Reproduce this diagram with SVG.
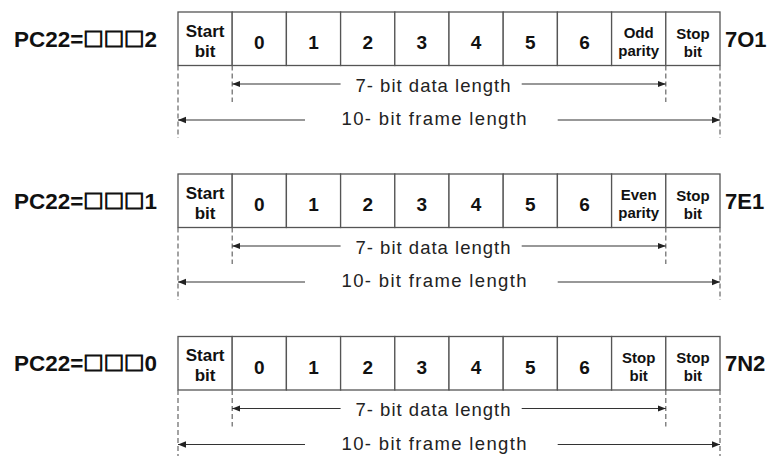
<svg xmlns="http://www.w3.org/2000/svg" width="771" height="456" viewBox="0 0 771 456">
<style>
.cell{fill:#fff;stroke:#555;stroke-width:1.3}
.lbl{font-family:"Liberation Sans",Arial,sans-serif;font-weight:bold;fill:#111}
.big{font-size:22px}
.sq{font-family:"Noto Sans CJK SC","DejaVu Sans",sans-serif;font-size:20px;font-weight:bold;stroke:#111;stroke-width:1.1}
.st{font-size:17px;text-anchor:middle}
.dg{font-size:19px;text-anchor:middle}
.sm{font-size:15px;text-anchor:middle}
.len{font-family:"Liberation Sans",Arial,sans-serif;font-size:18.5px;fill:#222;text-anchor:middle}
.arr{stroke:#333;stroke-width:1.2;fill:none}
.dash{stroke:#666;stroke-width:1.2;stroke-dasharray:5 3;fill:none}
</style>
<defs>
<marker id="ah" viewBox="0 0 8 8" refX="8" refY="4" markerWidth="8" markerHeight="8" markerUnits="userSpaceOnUse" orient="auto-start-reverse">
<path d="M0,0.8 L8,4 L0,7.2 z" fill="#222"/>
</marker>
<g id="cells">
<rect class="cell" x="178" y="0" width="54.2" height="53.5"/>
<rect class="cell" x="232.2" y="0" width="54.2" height="53.5"/>
<rect class="cell" x="286.4" y="0" width="54.2" height="53.5"/>
<rect class="cell" x="340.6" y="0" width="54.2" height="53.5"/>
<rect class="cell" x="394.8" y="0" width="54.2" height="53.5"/>
<rect class="cell" x="449" y="0" width="54.2" height="53.5"/>
<rect class="cell" x="503.2" y="0" width="54.2" height="53.5"/>
<rect class="cell" x="557.4" y="0" width="54.2" height="53.5"/>
<rect class="cell" x="611.6" y="0" width="54.2" height="53.5"/>
<rect class="cell" x="665.8" y="0" width="54.2" height="53.5"/>
<text class="lbl st" x="205.1" y="24.7">Start</text>
<text class="lbl st" x="205.1" y="44.7">bit</text>
<text class="lbl dg" x="259.3" y="37">0</text>
<text class="lbl dg" x="313.5" y="37">1</text>
<text class="lbl dg" x="367.7" y="37">2</text>
<text class="lbl dg" x="421.9" y="37">3</text>
<text class="lbl dg" x="476.1" y="37">4</text>
<text class="lbl dg" x="530.3" y="37">5</text>
<text class="lbl dg" x="584.5" y="37">6</text>
<text class="lbl sm" x="692.9" y="26.5">Stop</text>
<text class="lbl sm" x="692.9" y="44.5">bit</text>
</g>
<g id="conn">
<path class="dash" d="M178,53.5 V126 M232.2,53.5 V90 M665.8,53.5 V90 M720,53.5 V126"/>
<path class="arr" d="M340.6,72 H232.2" marker-end="url(#ah)"/>
<path class="arr" d="M521.7,72 H665.8" marker-end="url(#ah)"/>
<path class="arr" d="M305,108 H178" marker-end="url(#ah)"/>
<path class="arr" d="M557.7,108 H720" marker-end="url(#ah)"/>
<text class="len" x="433" y="79.7" textLength="155" lengthAdjust="spacing">7- bit  data length</text>
<text class="len" x="434" y="113.3" textLength="185" lengthAdjust="spacing">10- bit  frame  length</text>
</g>
</defs>

<g id="frame-7O1">
<text class="lbl big" x="14" y="46.7" textLength="143" lengthAdjust="spacingAndGlyphs">PC22=<tspan class="sq">□□□</tspan>2</text>
<g transform="translate(0,12)">
<use href="#cells"/>
<text class="lbl sm" x="638.7" y="26">Odd</text>
<text class="lbl sm" x="638.7" y="43.5">parity</text>
</g>
<text class="lbl big" x="725" y="46.7">7O1</text>
</g>

<g id="frame-7E1">
<text class="lbl big" x="14" y="208.7" textLength="143" lengthAdjust="spacingAndGlyphs">PC22=<tspan class="sq">□□□</tspan>1</text>
<g transform="translate(0,174)">
<use href="#cells"/>
<text class="lbl sm" x="638.7" y="26">Even</text>
<text class="lbl sm" x="638.7" y="43.5">parity</text>
</g>
<text class="lbl big" x="725" y="208.7">7E1</text>
</g>

<g id="frame-7N2">
<text class="lbl big" x="14" y="371.2" textLength="143" lengthAdjust="spacingAndGlyphs">PC22=<tspan class="sq">□□□</tspan>0</text>
<g transform="translate(0,336.5)">
<use href="#cells"/>
<text class="lbl sm" x="638.7" y="26.5">Stop</text>
<text class="lbl sm" x="638.7" y="44.5">bit</text>
</g>
<text class="lbl big" x="725" y="371.2">7N2</text>
</g>

<g id="connectors">
<use href="#conn" transform="translate(0,12)"/>
<use href="#conn" transform="translate(0,174)"/>
<use href="#conn" transform="translate(0,336.5)"/>
</g>
</svg>
